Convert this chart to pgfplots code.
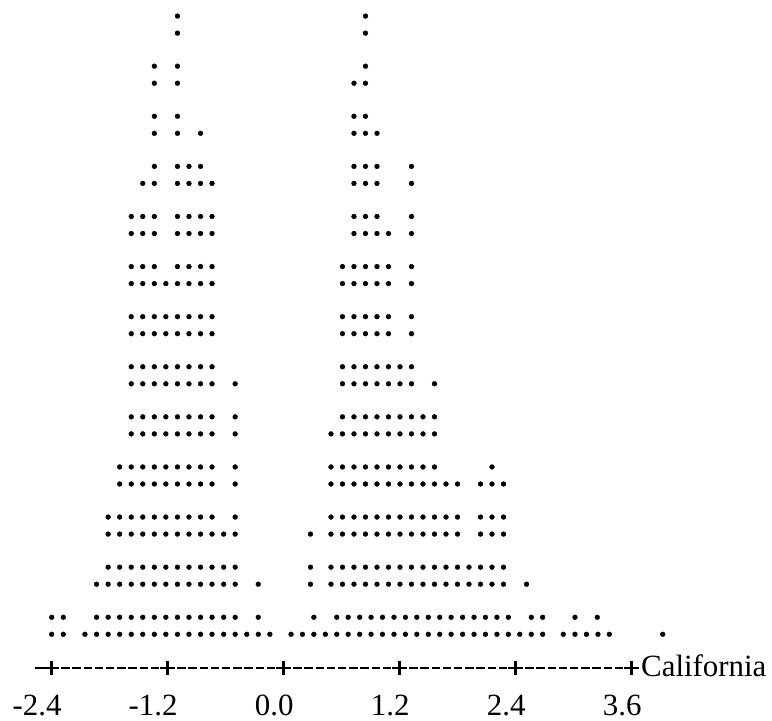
\documentclass[border=0pt]{standalone}
\usepackage{fontspec}
\setmainfont{Liberation Serif}
\usepackage{pgfplots}
\pgfplotsset{compat=1.18}
\begin{document}
\begin{tikzpicture}
\useasboundingbox (0,-53bp) rectangle (772bp,668bp);
\begin{axis}[
  at={(0,0)}, anchor=south west,
  scale only axis, width=772bp, height=668bp,
  xmin=-2.9348, xmax=5.0514, ymin=-0.673, ymax=12.661,
  axis x line=bottom, axis y line=none,
  x axis line style={draw=none},
  xtick={-2.4,-1.2,0,1.2,2.4,3.6},
  xticklabels={-2.4,-1.2,0.0,1.2,2.4,3.6},
  major tick length=14bp, tick align=center,
  xtick style={black, line width=2.5bp},
  xticklabel style={font=\fontsize{31}{31}\selectfont, inner sep=0pt, anchor=base east, xshift=10bp, yshift=-40bp},
  clip=false,
  dot/.style={only marks, mark=*, mark size=2.4bp, black, mark options={fill=black}},
]
% line 0
\addplot[dot] coordinates {(-1.099,12.34)(0.846,12.34)(-1.099,12)(0.846,12)};
% line 1
\addplot[dot] coordinates {(-1.338,11.34)(-1.099,11.34)(0.846,11.34)
 (-1.338,11)(-1.099,11)(0.727,11)(0.846,11)};
% line 2
\addplot[dot] coordinates {(-1.338,10.34)(-1.099,10.34)(0.727,10.34)(0.846,10.34)
 (-1.338,10)(-1.099,10)(-0.860,10)(0.727,10)(0.846,10)(0.965,10)};
% line 3
\addplot[dot] coordinates {(-1.338,9.34)(-1.099,9.34)(-0.980,9.34)(-0.860,9.34)(0.727,9.34)(0.846,9.34)(0.965,9.34)(1.322,9.34)
 (-1.458,9)(-1.338,9)(-1.099,9)(-0.980,9)(-0.860,9)(-0.741,9)(0.727,9)(0.846,9)(0.965,9)(1.322,9)};
% line 4
\addplot[dot] coordinates {(-1.577,8.34)(-1.458,8.34)(-1.338,8.34)(-1.099,8.34)(-0.980,8.34)(-0.860,8.34)(-0.741,8.34)
 (0.727,8.34)(0.846,8.34)(0.965,8.34)(1.322,8.34)
 (-1.577,8)(-1.458,8)(-1.338,8)(-1.099,8)(-0.980,8)(-0.860,8)(-0.741,8)
 (0.727,8)(0.846,8)(0.965,8)(1.084,8)(1.322,8)};
% line 5
\addplot[dot] coordinates {(-1.577,7.34)(-1.458,7.34)(-1.338,7.34)(-1.099,7.34)(-0.980,7.34)(-0.860,7.34)(-0.741,7.34)
 (0.608,7.34)(0.727,7.34)(0.846,7.34)(0.965,7.34)(1.084,7.34)(1.322,7.34)
 (-1.577,7)(-1.458,7)(-1.338,7)(-1.219,7)(-1.099,7)(-0.980,7)(-0.860,7)(-0.741,7)
 (0.608,7)(0.727,7)(0.846,7)(0.965,7)(1.084,7)(1.322,7)};
% line 6
\addplot[dot] coordinates {(-1.577,6.34)(-1.458,6.34)(-1.338,6.34)(-1.219,6.34)(-1.099,6.34)(-0.980,6.34)(-0.860,6.34)(-0.741,6.34)
 (0.608,6.34)(0.727,6.34)(0.846,6.34)(0.965,6.34)(1.084,6.34)(1.322,6.34)
 (-1.577,6)(-1.458,6)(-1.338,6)(-1.219,6)(-1.099,6)(-0.980,6)(-0.860,6)(-0.741,6)
 (0.608,6)(0.727,6)(0.846,6)(0.965,6)(1.084,6)(1.322,6)};
% line 7
\addplot[dot] coordinates {(-1.577,5.34)(-1.458,5.34)(-1.338,5.34)(-1.219,5.34)(-1.099,5.34)(-0.980,5.34)(-0.860,5.34)(-0.741,5.34)
 (0.608,5.34)(0.727,5.34)(0.846,5.34)(0.965,5.34)(1.084,5.34)(1.203,5.34)(1.322,5.34)
 (-1.577,5)(-1.458,5)(-1.338,5)(-1.219,5)(-1.099,5)(-0.980,5)(-0.860,5)(-0.741,5)(-0.502,5)
 (0.608,5)(0.727,5)(0.846,5)(0.965,5)(1.084,5)(1.203,5)(1.322,5)(1.560,5)};
% line 8
\addplot[dot] coordinates {(-1.577,4.34)(-1.458,4.34)(-1.338,4.34)(-1.219,4.34)(-1.099,4.34)(-0.980,4.34)(-0.860,4.34)(-0.741,4.34)(-0.502,4.34)
 (0.608,4.34)(0.727,4.34)(0.846,4.34)(0.965,4.34)(1.084,4.34)(1.203,4.34)(1.322,4.34)(1.441,4.34)(1.560,4.34)
 (-1.577,4)(-1.458,4)(-1.338,4)(-1.219,4)(-1.099,4)(-0.980,4)(-0.860,4)(-0.741,4)(-0.502,4)
 (0.489,4)(0.608,4)(0.727,4)(0.846,4)(0.965,4)(1.084,4)(1.203,4)(1.322,4)(1.441,4)(1.560,4)};
% line 9
\addplot[dot] coordinates {(-1.697,3.34)(-1.577,3.34)(-1.458,3.34)(-1.338,3.34)(-1.219,3.34)(-1.099,3.34)(-0.980,3.34)(-0.860,3.34)(-0.741,3.34)(-0.502,3.34)
 (0.489,3.34)(0.608,3.34)(0.727,3.34)(0.846,3.34)(0.965,3.34)(1.084,3.34)(1.203,3.34)(1.322,3.34)(1.441,3.34)(1.560,3.34)(2.155,3.34)
 (-1.697,3)(-1.577,3)(-1.458,3)(-1.338,3)(-1.219,3)(-1.099,3)(-0.980,3)(-0.860,3)(-0.741,3)(-0.502,3)
 (0.489,3)(0.608,3)(0.727,3)(0.846,3)(0.965,3)(1.084,3)(1.203,3)(1.322,3)(1.441,3)(1.560,3)(1.679,3)(1.798,3)
 (2.036,3)(2.155,3)(2.274,3)};
% line 10
\addplot[dot] coordinates {(-1.816,2.34)(-1.697,2.34)(-1.577,2.34)(-1.458,2.34)(-1.338,2.34)(-1.219,2.34)(-1.099,2.34)(-0.980,2.34)(-0.860,2.34)(-0.741,2.34)(-0.502,2.34)
 (0.489,2.34)(0.608,2.34)(0.727,2.34)(0.846,2.34)(0.965,2.34)(1.084,2.34)(1.203,2.34)(1.322,2.34)(1.441,2.34)(1.560,2.34)(1.679,2.34)(1.798,2.34)
 (2.036,2.34)(2.155,2.34)(2.274,2.34)
 (-1.816,2)(-1.697,2)(-1.577,2)(-1.458,2)(-1.338,2)(-1.219,2)(-1.099,2)(-0.980,2)(-0.860,2)(-0.741,2)(-0.621,2)(-0.502,2)
 (0.277,2)
 (0.489,2)(0.608,2)(0.727,2)(0.846,2)(0.965,2)(1.084,2)(1.203,2)(1.322,2)(1.441,2)(1.560,2)(1.679,2)(1.798,2)
 (2.036,2)(2.155,2)(2.274,2)};
% line 11
\addplot[dot] coordinates {(-1.816,1.34)(-1.697,1.34)(-1.577,1.34)(-1.458,1.34)(-1.338,1.34)(-1.219,1.34)(-1.099,1.34)(-0.980,1.34)(-0.860,1.34)(-0.741,1.34)(-0.621,1.34)(-0.502,1.34)
 (0.277,1.34)
 (0.489,1.34)(0.608,1.34)(0.727,1.34)(0.846,1.34)(0.965,1.34)(1.084,1.34)(1.203,1.34)(1.322,1.34)(1.441,1.34)(1.560,1.34)(1.679,1.34)(1.798,1.34)(1.917,1.34)(2.036,1.34)(2.155,1.34)(2.274,1.34)
 (-1.936,1)(-1.816,1)(-1.697,1)(-1.577,1)(-1.458,1)(-1.338,1)(-1.219,1)(-1.099,1)(-0.980,1)(-0.860,1)(-0.741,1)(-0.621,1)(-0.502,1)(-0.263,1)
 (0.277,1)
 (0.489,1)(0.608,1)(0.727,1)(0.846,1)(0.965,1)(1.084,1)(1.203,1)(1.322,1)(1.441,1)(1.560,1)(1.679,1)(1.798,1)(1.917,1)(2.036,1)(2.155,1)(2.274,1)(2.512,1)};
% line 12
\addplot[dot] coordinates {(-2.400,0.34)(-2.280,0.34)
 (-1.936,0.34)(-1.816,0.34)(-1.697,0.34)(-1.577,0.34)(-1.458,0.34)(-1.338,0.34)(-1.219,0.34)(-1.099,0.34)(-0.980,0.34)(-0.860,0.34)(-0.741,0.34)(-0.621,0.34)(-0.502,0.34)(-0.263,0.34)
 (0.312,0.34)
 (0.549,0.34)(0.667,0.34)(0.786,0.34)(0.904,0.34)(1.022,0.34)(1.141,0.34)(1.259,0.34)(1.377,0.34)(1.496,0.34)(1.614,0.34)(1.732,0.34)(1.851,0.34)(1.969,0.34)(2.087,0.34)(2.206,0.34)(2.324,0.34)
 (2.561,0.34)(2.679,0.34)(3.013,0.34)(3.244,0.34)
 (-2.400,0)(-2.280,0)
 (-2.056,0)(-1.936,0)(-1.816,0)(-1.697,0)(-1.577,0)(-1.458,0)(-1.338,0)(-1.219,0)(-1.099,0)(-0.980,0)(-0.860,0)(-0.741,0)(-0.621,0)(-0.502,0)(-0.382,0)(-0.263,0)(-0.143,0)
 (0.076,0)(0.194,0)(0.312,0)(0.431,0)(0.549,0)(0.667,0)(0.786,0)(0.904,0)(1.022,0)(1.141,0)(1.259,0)(1.377,0)(1.496,0)(1.614,0)(1.732,0)(1.851,0)(1.969,0)(2.087,0)(2.206,0)(2.324,0)(2.442,0)(2.561,0)(2.679,0)
 (2.892,0)(3.013,0)(3.132,0)(3.251,0)(3.368,0)(3.921,0)};
\end{axis}
% text-style axis line: -+---------+---------+ ...
\draw[line width=2.6bp] (35bp,0) -- (44bp,0);
\foreach \j in {0,...,4}{
  \foreach \k in {0,...,8}{
    \draw[line width=2.6bp] ({51.7bp+116bp*\j+9.5bp+11.2bp*\k},0) -- ++(8.3bp,0);
  }
}
\foreach \j in {0,...,5}{
  \draw[line width=2.5bp] ({51.7bp+116bp*\j-7.5bp},0) -- ++(15bp,0);
}
\node[anchor=base west, font=\fontsize{31}{31}\selectfont, inner sep=0pt] at (641bp,-8bp) {California};
\end{tikzpicture}
\end{document}
